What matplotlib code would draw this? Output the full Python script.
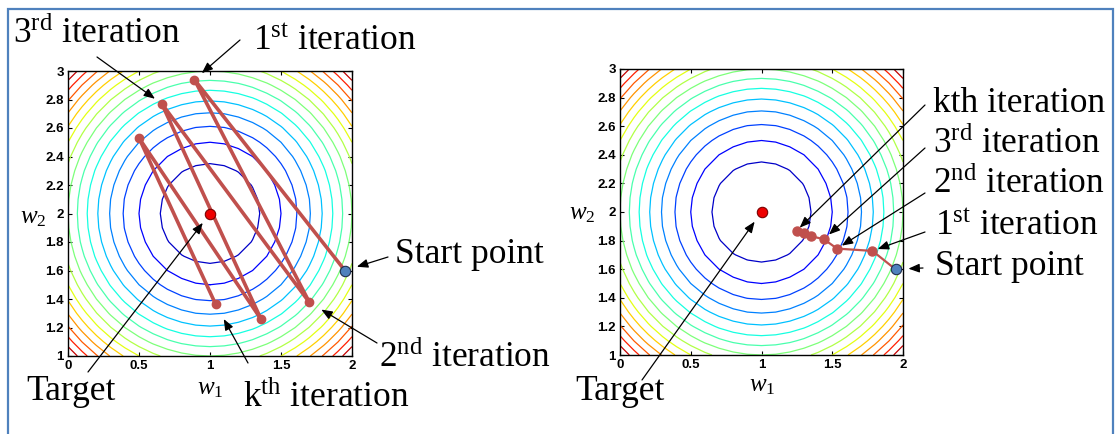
import numpy as np
import matplotlib
matplotlib.use("Agg")
import matplotlib.pyplot as plt
from matplotlib.patches import Rectangle

plt.rcParams['mathtext.fontset'] = 'custom'
plt.rcParams['mathtext.rm'] = 'Liberation Serif'
plt.rcParams['mathtext.it'] = 'Liberation Serif:italic'

W, H = 1119, 434

# ---- data ----
target = (1.0, 2.0)
start = (1.95, 1.6)
left_w1 = [1.95, 0.89, 1.70, 0.66, 1.36, 0.50, 1.04]
left_w2 = [1.60, 2.94, 1.376, 2.771, 1.257, 2.53, 1.362]
right_w1 = [1.946, 1.784, 1.534, 1.44, 1.348, 1.299, 1.249]
right_w2 = [1.60, 1.728, 1.744, 1.81, 1.831, 1.855, 1.87]
xticks = [0, 0.5, 1, 1.5, 2]
xticklabels = ['0', '0.5', '1', '1.5', '2']
yticks = [1, 1.2, 1.4, 1.6, 1.8, 2, 2.2, 2.4, 2.6, 2.8, 3]
yticklabels = ['1', '1.2', '1.4', '1.6', '1.8', '2', '2.2', '2.4', '2.6', '2.8', '3']
contour_levels = [0.125 * k for k in range(1, 17)]

g1 = np.arange(0, 2.0001, 0.1)
g2 = np.arange(1, 3.0001, 0.1)
G1, G2 = np.meshgrid(g1, g2)
F = (G1 - target[0]) ** 2 + (G2 - target[1]) ** 2

fig = plt.figure(figsize=(W / 100, H / 100), dpi=100)


def px(x, y):
    return (x / W, 1 - y / H)


def make_axes(x0, y0, x1, y1):
    ax = fig.add_axes([x0 / W, 1 - y1 / H, (x1 - x0) / W, (y1 - y0) / H])
    ax.contour(G1, G2, F, levels=contour_levels, cmap='jet', vmin=0, vmax=2,
               linewidths=0.9)
    ax.set_xlim(0, 2)
    ax.set_ylim(1, 3)
    ax.set_xticks(xticks)
    ax.set_xticklabels(xticklabels, fontsize=9.5, fontweight='bold',
                       family='Liberation Sans')
    ax.set_yticks(yticks)
    ax.set_yticklabels(yticklabels, fontsize=9.5, fontweight='bold',
                       family='Liberation Sans')
    ax.tick_params(direction='in', length=3, width=0.8, top=True, right=True,
                   pad=3)
    for s in ax.spines.values():
        s.set_linewidth(1.0)
    return ax


axL = make_axes(68, 71, 352, 356)
axR = make_axes(620, 69, 903, 355)

PATH_C = '#c0504d'
axL.plot(left_w1, left_w2, '-', color=PATH_C, lw=2.6, zorder=3)
axL.plot(left_w1[1:], left_w2[1:], 'o', color=PATH_C, ms=6, zorder=4)
axR.plot(right_w1, right_w2, '-', color=PATH_C, lw=1.6, zorder=3)
axR.plot(right_w1[1:], right_w2[1:], 'o', color=PATH_C, ms=6.5, zorder=4)

for ax in (axL, axR):
    ax.plot([target[0]], [target[1]], 'o', color='#ee0000', mec='#7a0000',
            mew=0.8, ms=7.5, zorder=5)
    ax.plot([start[0]], [start[1]], 'o', color='#4f81bd', mec='#1f2f4f',
            mew=0.8, ms=7.5, zorder=5)

FS = 25.5
tkw = dict(family='Liberation Serif', fontsize=FS, ha='left', va='baseline')


def label(x, y, s):
    fig.text(*px(x, y), s, **tkw)


def arrow(ax, xy, tail, shrink):
    ax.annotate('', xy=xy, xycoords='data', xytext=px(*tail),
                textcoords='figure fraction', annotation_clip=False,
                arrowprops=dict(arrowstyle='-|>,head_length=0.55,head_width=0.22',
                                mutation_scale=12, color='black', lw=0.9,
                                shrinkA=0, shrinkB=shrink))


# left labels
label(13, 43, r'3$^{\mathrm{rd}}$ iteration')
label(253, 50, r'1$^{\mathrm{st}}$ iteration')
label(395, 263, 'Start point')
label(379, 367, r'2$^{\mathrm{nd}}$ iteration')
label(243, 407, r'k$^{\mathrm{th}}$ iteration')
label(26, 400, 'Target')

arrow(axL, (left_w1[3], left_w2[3]), (97, 57), 6)
arrow(axL, (left_w1[1], left_w2[1]), (240, 40), 7)
arrow(axL, start, (388, 257), 9)
arrow(axL, (left_w1[2], left_w2[2]), (377, 343), 10)
arrow(axL, (left_w1[6], left_w2[6]), (248, 363), 12)
arrow(axL, target, (88, 372), 8.5)

# right labels
label(933, 112, 'kth iteration')
label(933, 153, r'3$^{\mathrm{rd}}$ iteration')
label(933, 193, r'2$^{\mathrm{nd}}$ iteration')
label(935, 235, r'1$^{\mathrm{st}}$ iteration')
label(935, 275, 'Start point')
label(575, 400, 'Target')

arrow(axR, (right_w1[6], right_w2[6]), (925, 105), 3)
arrow(axR, (right_w1[3], right_w2[3]), (925, 148), 5)
arrow(axR, (right_w1[2], right_w2[2]), (925, 193), 4)
arrow(axR, (right_w1[1], right_w2[1]), (925, 232), 4)
arrow(axR, start, (923, 268), 9)
arrow(axR, target, (642, 380), 8.5)

# axis labels
for (x, y) in [(210, 388), (762, 385)]:
    fig.text(*px(x, y), r'$w_{\mathit{1}}$', fontsize=18, ha='center', va='center')
for (x, y) in [(33, 217), (582, 213)]:
    fig.text(*px(x, y), r'$w_{\mathit{2}}$', fontsize=18, ha='center', va='center')

# blue frame
fig.patches.append(Rectangle(px(7.5, 445), (1113 - 7.5) / W, (445 - 9) / H,
                             transform=fig.transFigure, fill=False,
                             edgecolor='#4f81bd', lw=1.6))

fig.savefig('out.png', dpi=100)
